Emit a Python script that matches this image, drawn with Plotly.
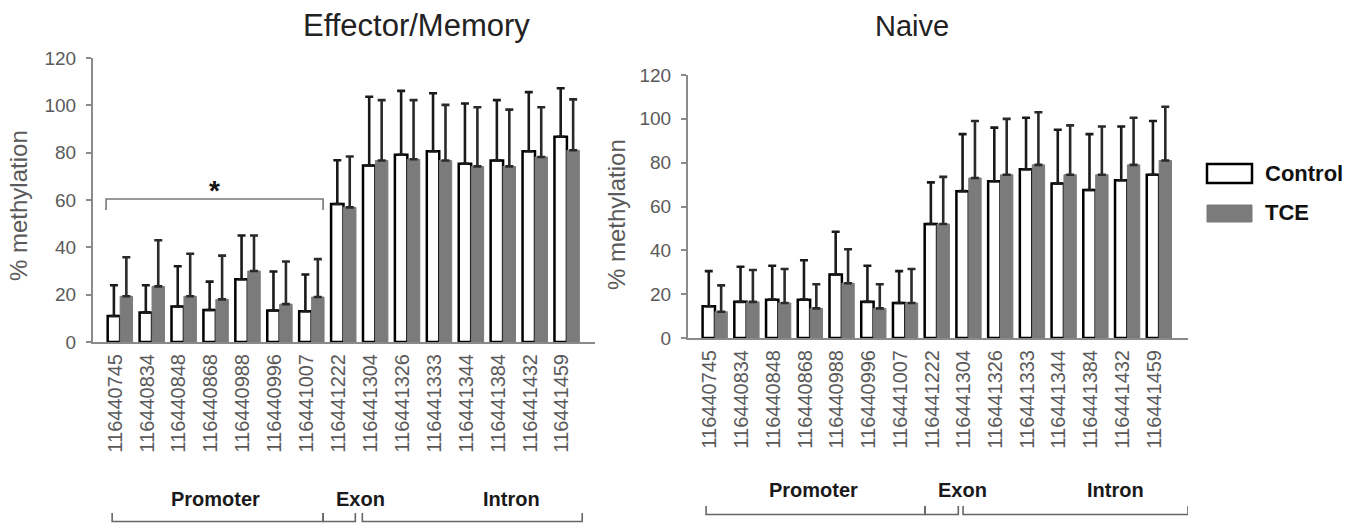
import plotly.graph_objects as go

# ---------------- data ----------------
cpg_sites = ["116440745", "116440834", "116440848", "116440868", "116440988",
             "116440996", "116441007", "116441222", "116441304", "116441326",
             "116441333", "116441344", "116441384", "116441432", "116441459"]

# Effector/Memory
em_control = [11, 12.5, 15, 13.5, 26.5, 13.3, 13, 58.3, 74.6, 79.1, 80.6, 75.3, 76.7, 80.6, 86.7]
em_control_sd = [13, 11.5, 17, 12, 18.5, 16.5, 15.5, 18.5, 29, 27, 24.5, 25.5, 25.5, 25, 20.5]
em_tce = [19.3, 23.5, 19.3, 18, 30, 16, 19, 56.9, 76.7, 77.2, 76.7, 74.2, 74.2, 78.2, 81]
em_tce_sd = [16.5, 19.5, 18, 18.5, 15, 18, 16, 21.5, 25.5, 25, 23.5, 25, 24, 21, 21.5]

# Naive
nv_control = [14.5, 16.5, 17.5, 17.5, 29, 16.5, 16, 52, 67, 71.5, 77, 70.5, 67.5, 72, 74.5]
nv_control_sd = [16, 16, 15.5, 18, 19.5, 16.5, 14.5, 19, 26, 24.5, 23.5, 24.5, 25.5, 24.5, 24.5]
nv_tce = [12, 16.5, 16, 13.5, 25, 13.5, 16, 52, 73, 74.5, 79, 74.5, 74.5, 79, 81]
nv_tce_sd = [12, 14.5, 15.5, 11, 15.5, 11, 15.5, 21.5, 26, 25.5, 24, 22.5, 22, 21.5, 24.5]

y_ticks = [0, 20, 40, 60, 80, 100, 120]
region_labels = ["Promoter", "Exon", "Intron"]
series_names = ["Control", "TCE"]
panel_titles = ["Effector/Memory", "Naive"]

# ---------------- styling ----------------
W, H = 1368, 523
FONT = "Liberation Sans, Arial, sans-serif"
GRAY_BAR = "#7b7b7b"
AXIS_GRAY = "#8a8a8a"
TICK_GRAY = "#5a5a5a"


def px(x):
    return x / W


def py(y):
    return 1 - y / H


fig = go.Figure()


def add_pair(ctrl, ctrl_sd, tce, tce_sd, xa, ya):
    zeros = [0] * len(ctrl)
    fig.add_trace(go.Bar(
        x=cpg_sites, y=ctrl, name=series_names[0], xaxis=xa, yaxis=ya, showlegend=False,
        marker=dict(color="white", line=dict(color="black", width=2.5)),
        error_y=dict(type="data", array=ctrl_sd, arrayminus=zeros, symmetric=False,
                     color="#1a1a1a", thickness=2.6, width=4)))
    fig.add_trace(go.Bar(
        x=cpg_sites, y=tce, name=series_names[1], xaxis=xa, yaxis=ya, showlegend=False,
        marker=dict(color=GRAY_BAR, line=dict(color=GRAY_BAR, width=1)),
        error_y=dict(type="data", array=tce_sd, arrayminus=zeros, symmetric=False,
                     color="#2a2a2a", thickness=2.6, width=4)))


add_pair(em_control, em_control_sd, em_tce, em_tce_sd, "x", "y")
add_pair(nv_control, nv_control_sd, nv_tce, nv_tce_sd, "x2", "y2")

xaxis_common = dict(type="category", showline=True, linecolor=AXIS_GRAY, linewidth=2,
                    ticks="", tickangle=-90, showgrid=False, zeroline=False,
                    tickfont=dict(family=FONT, size=20, color=TICK_GRAY),
                    ticklabelshift=-5, ticklabelstandoff=2, automargin=False)
yaxis_common = dict(range=[0, 120], tickvals=y_ticks, showline=True, linecolor=AXIS_GRAY,
                    linewidth=2, ticks="outside", ticklen=5, tickcolor=AXIS_GRAY,
                    tickwidth=2, showgrid=False, zeroline=False,
                    tickfont=dict(family=FONT, size=19, color=TICK_GRAY),
                    ticklabelstandoff=6, automargin=False)

fig.update_layout(
    width=W, height=H,
    margin=dict(l=0, r=0, t=0, b=0),
    paper_bgcolor="white", plot_bgcolor="white",
    barmode="group", bargap=0.22, bargroupgap=0,
    xaxis=dict(domain=[px(93), px(595)], range=[-0.85, 14.88], anchor="y", **xaxis_common),
    yaxis=dict(domain=[py(342), py(58)], anchor="x", **yaxis_common),
    xaxis2=dict(domain=[px(688), px(1188)], range=[-0.85, 14.91], anchor="y2", **xaxis_common),
    yaxis2=dict(domain=[py(338), py(75)], anchor="x2", **yaxis_common),
)

annotations = []
shapes = []


def label(text, x, y, size, color, xref="paper", yref="paper", xanchor="center", angle=0):
    annotations.append(dict(text=text, x=x, y=y, xref=xref, yref=yref, xanchor=xanchor,
                            yanchor="middle", textangle=angle, showarrow=False,
                            font=dict(family=FONT, size=size, color=color)))


# panel titles
label(panel_titles[0], px(416), py(25), 31, "#222")
label(panel_titles[1], px(912), py(26), 29, "#222")

# y axis titles
label("% methylation", px(18), py(206), 24, TICK_GRAY, angle=-90)
label("% methylation", px(616), py(215), 24, TICK_GRAY, angle=-90)

# significance bracket (Effector/Memory promoter)
shapes.append(dict(type="path", xref="x", yref="y",
                   path="M -0.44,55.8 L -0.44,60.4 L 6.36,60.4 L 6.36,55.8",
                   line=dict(color="#777", width=1.6)))
label("<b>*</b>", 2.96, 64, 28, "#111", xref="x", yref="y")


# region brackets and labels
def region_brackets(xref, segs, y_line, y_tick):
    for a, b in segs:
        shapes.append(dict(type="path", xref=xref, yref="paper",
                           path=f"M {a},{py(y_tick)} L {a},{py(y_line)} L {b},{py(y_line)} L {b},{py(y_tick)}",
                           line=dict(color="#666", width=1.6)))


region_brackets("x", [(-0.25, 6.36), (6.36, 7.37), (7.59, 14.48)], 521.5, 513)
region_brackets("x2", [(-0.28, 6.62), (6.62, 7.67), (7.82, 14.91)], 514.5, 506)

for xref, xs, yc in [("x", [2.98, 7.52, 12.26], 499), ("x2", [3.12, 7.79, 12.62], 490)]:
    for lab, xv in zip(region_labels, xs):
        label(f"<b>{lab}</b>", xv, py(yc), 20, "#1a1a1a", xref=xref)

# legend
shapes.append(dict(type="rect", xref="paper", yref="paper", x0=px(1207), x1=px(1252),
                   y0=py(183), y1=py(164), fillcolor="white", line=dict(color="black", width=2.5)))
shapes.append(dict(type="rect", xref="paper", yref="paper", x0=px(1207), x1=px(1252),
                   y0=py(222), y1=py(205), fillcolor=GRAY_BAR, line=dict(color=GRAY_BAR, width=1)))
label(f"<b>{series_names[0]}</b>", px(1263), py(174), 22, "#111", xanchor="left")
label(f"<b>{series_names[1]}</b>", px(1263), py(213), 22, "#111", xanchor="left")

fig.update_layout(annotations=annotations, shapes=shapes)
fig.write_html("out.html")
